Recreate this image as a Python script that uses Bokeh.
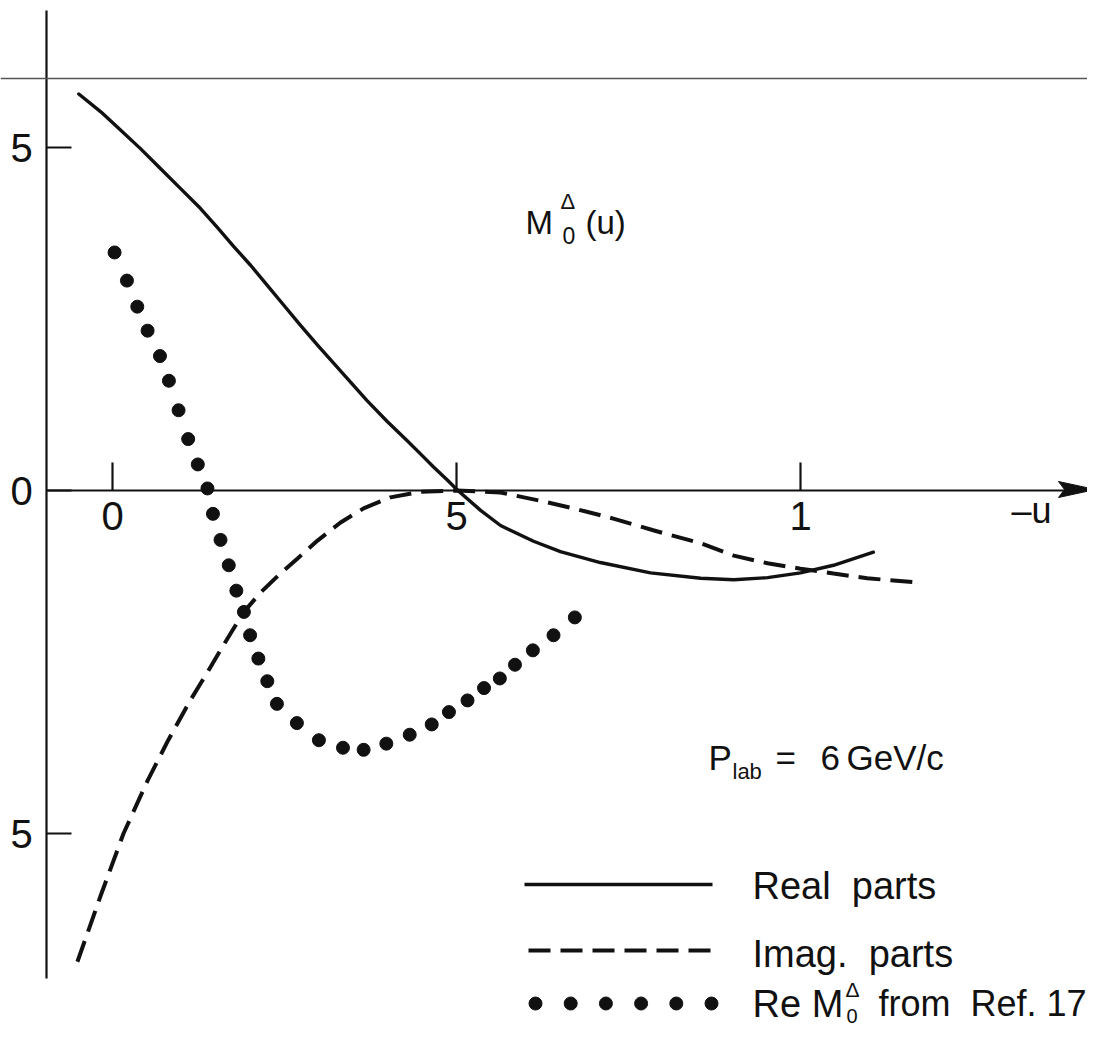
from bokeh.plotting import figure
from bokeh.models import Range1d, Span
from bokeh.embed import file_html
from bokeh.resources import INLINE
from bokeh.core.properties import value

# ---------------- data ----------------
x_ticks = [0.0, 0.5, 1.0]
x_tick_labels = ["0", "5", "1"]
y_ticks = [5, 0, -5]
y_tick_labels = ["5", "0", "5"]

# Real parts (solid)
real_u = [-0.049, -0.017, 0.012, 0.041, 0.070, 0.099, 0.128, 0.152, 0.176, 0.201,
          0.225, 0.249, 0.273, 0.298, 0.322, 0.346, 0.370, 0.399, 0.428, 0.448,
          0.467, 0.487, 0.502, 0.535, 0.564, 0.612, 0.651, 0.709, 0.782, 0.855,
          0.903, 0.952, 1.000, 1.048, 1.106]
real_m = [5.78, 5.52, 5.25, 4.98, 4.69, 4.40, 4.11, 3.84, 3.56, 3.28,
          2.99, 2.70, 2.41, 2.12, 1.85, 1.58, 1.31, 1.01, 0.73, 0.53,
          0.34, 0.15, 0.00, -0.29, -0.51, -0.74, -0.89, -1.05, -1.20, -1.28,
          -1.30, -1.27, -1.20, -1.09, -0.90]

# Imag. parts (dashed)
imag_u = [-0.051, -0.017, 0.016, 0.051, 0.081, 0.113, 0.138, 0.161, 0.190, 0.215,
          0.244, 0.269, 0.298, 0.331, 0.365, 0.404, 0.448, 0.500, 0.564, 0.622,
          0.670, 0.728, 0.786, 0.855, 0.903, 0.952, 1.000, 1.048, 1.097, 1.171]
imag_m = [-6.87, -5.90, -5.00, -4.23, -3.64, -3.06, -2.65, -2.26, -1.78, -1.49,
          -1.21, -0.99, -0.73, -0.47, -0.26, -0.10, -0.02, 0.00, -0.03, -0.15,
          -0.26, -0.41, -0.58, -0.77, -0.95, -1.06, -1.14, -1.21, -1.28, -1.34]

# Re M0 from Ref. 17 (dots)
ref17_u = [0.003, 0.021, 0.036, 0.051, 0.069, 0.082, 0.096, 0.110, 0.124, 0.138,
           0.146, 0.157, 0.169, 0.180, 0.191, 0.200, 0.212, 0.225, 0.239, 0.268,
           0.300, 0.335, 0.365, 0.398, 0.432, 0.464, 0.489, 0.516, 0.540, 0.563,
           0.585, 0.611, 0.641, 0.672]
ref17_m = [3.47, 3.06, 2.68, 2.33, 1.96, 1.60, 1.17, 0.75, 0.38, 0.03,
           -0.34, -0.72, -1.09, -1.46, -1.77, -2.11, -2.45, -2.78, -3.11, -3.39,
           -3.64, -3.75, -3.78, -3.69, -3.56, -3.41, -3.23, -3.06, -2.88, -2.74,
           -2.54, -2.33, -2.11, -1.85]

# ---------------- layout ----------------
W, H = 1087, 1030
U0_PX, U_SCALE = 112.0, 688.0
M0_PX, M_SCALE = 490.0, 68.6
FONT = "Liberation Sans"
INK = "#111111"
NB = "\u00a0"


def dx(px):
    return (px - U0_PX) / U_SCALE


def dy(py):
    return (M0_PX - py) / M_SCALE


p = figure(width=W, height=H,
           x_range=Range1d(dx(0), dx(W)),
           y_range=Range1d(dy(H), dy(0)),
           output_backend="svg", toolbar_location=None,
           x_axis_location=None, y_axis_location=None,
           min_border=0, background_fill_color="white",
           border_fill_color="white")
p.grid.visible = False
p.outline_line_color = None

AX = dx(46)

# frame lines
p.add_layout(Span(location=dy(78), dimension="width", line_color="#555555", line_width=1.5))
p.segment(x0=[AX, AX], y0=[dy(10), dy(1036)], x1=[AX, AX], y1=[dy(978), dy(1060)],
          line_color=INK, line_width=2.2)
p.segment(x0=[AX], y0=[0], x1=[dx(1075)], y1=[0], line_color=INK, line_width=2.2)
p.patch([dx(1058), dx(1095), dx(1058), dx(1064)],
        [dy(481), dy(489), dy(497), dy(489)], color=INK)

# ticks
p.segment(x0=[AX] * len(y_ticks), y0=y_ticks, x1=[dx(71)] * len(y_ticks), y1=y_ticks,
          line_color=INK, line_width=2.2)
p.segment(x0=x_ticks, y0=[0] * len(x_ticks), x1=x_ticks, y1=[dy(462)] * len(x_ticks),
          line_color=INK, line_width=2.2)
p.text(x=[dx(21)] * len(y_ticks), y=y_ticks, text=y_tick_labels,
       text_font=value(FONT), text_font_size=value("40px"), text_color=INK,
       text_align="center", text_baseline="middle")
p.text(x=x_ticks, y=[dy(515)] * len(x_ticks), text=x_tick_labels,
       text_font=value(FONT), text_font_size=value("40px"), text_color=INK,
       text_align="center", text_baseline="middle")
p.text(x=[dx(1031)], y=[dy(510)], text=["\u2013u"],
       text_font=value(FONT), text_font_size=value("36px"), text_color=INK,
       text_align="center", text_baseline="middle")

# curves
p.line(real_u, real_m, line_color=INK, line_width=3.4, line_join="round", line_cap="round")
p.line(imag_u, imag_m, line_color=INK, line_width=4.0, line_dash="22 10")
p.scatter(ref17_u, ref17_m, size=13, color=INK)


def txt(px, py, s, size, align="left"):
    p.text(x=[dx(px)], y=[dy(py)], text=[s], text_font=value(FONT),
           text_font_size=value(size), text_color=INK,
           text_align=align, text_baseline="middle")


# M0^Delta(u)
txt(525, 222, "M", "33px")
txt(560, 201, "Δ", "22px")
txt(562, 235, "0", "23px")
txt(585, 222, "(u)", "33px")

# P_lab = 6 GeV/c
txt(708, 757, "P", "35px")
txt(732, 771, "lab", "22px")
txt(775, 757, "=", "35px")
txt(820, 757, "6", "35px")
txt(846, 757, "GeV/c", "35px")

# legend samples
p.line([dx(524), dx(712)], [dy(884), dy(884)], line_color=INK, line_width=3.4)
p.line([dx(528), dx(712)], [dy(950), dy(950)], line_color=INK, line_width=4.0, line_dash="22 10")
leg_dots = [535 + i * 35.2 for i in range(6)]
p.scatter([dx(v) for v in leg_dots], [dy(1003)] * 6, size=13, color=INK)

txt(752, 885, "Real" + NB + NB + "parts", "38px")
txt(752, 953, "Imag." + NB + NB + "parts", "38px")
txt(752, 1003, "Re M", "38px")
txt(845, 989, "Δ", "21px")
txt(846, 1015, "0", "20px")
txt(878, 1003, "from" + NB + NB + "Ref. 17", "36px")

open("out.html", "w").write(file_html(p, INLINE))
